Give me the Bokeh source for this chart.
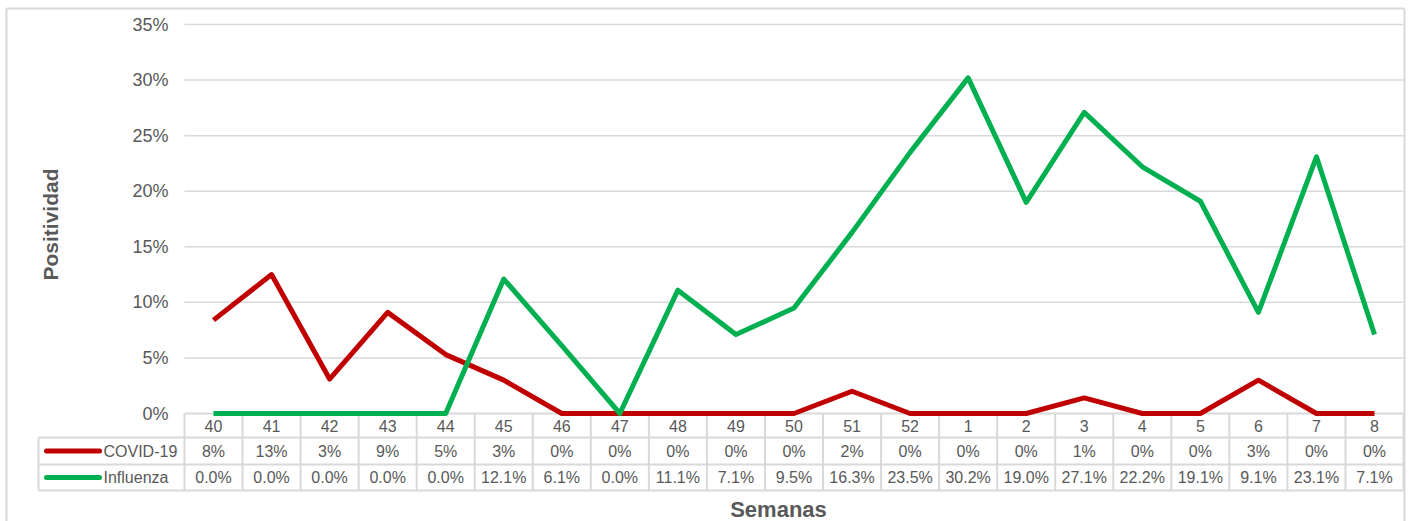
from bokeh.plotting import figure
from bokeh.models import Range1d, ColumnDataSource
from bokeh.core.properties import value
from bokeh.embed import file_html
from bokeh.resources import INLINE

# ---------------- data ----------------
weeks = ["40", "41", "42", "43", "44", "45", "46", "47", "48", "49", "50",
         "51", "52", "1", "2", "3", "4", "5", "6", "7", "8"]
covid = [8.4, 12.5, 3.1, 9.1, 5.3, 3.0, 0.0, 0.0, 0.0, 0.0, 0.0,
         2.0, 0.0, 0.0, 0.0, 1.4, 0.0, 0.0, 3.0, 0.0, 0.0]
covid_labels = ["8%", "13%", "3%", "9%", "5%", "3%", "0%", "0%", "0%", "0%", "0%",
                "2%", "0%", "0%", "0%", "1%", "0%", "0%", "3%", "0%", "0%"]
influenza = [0.0, 0.0, 0.0, 0.0, 0.0, 12.1, 6.1, 0.0, 11.1, 7.1, 9.5,
             16.3, 23.5, 30.2, 19.0, 27.1, 22.2, 19.1, 9.1, 23.1, 7.1]
influenza_labels = [f"{v:.1f}%" for v in influenza]
y_ticks = [0, 5, 10, 15, 20, 25, 30, 35]
y_tick_labels = [f"{t}%" for t in y_ticks]
series_names = ["COVID-19", "Influenza"]
series_colors = ["#C00000", "#00B050"]
y_title = "Positividad"
x_title = "Semanas"

# ---------------- layout (page pixels) ----------------
W, H = 1406, 521
FRAME_L, FRAME_T = 0, 0
PX_CAT = 58.05          # px per week column
PX_UNIT = 11.113        # px per percent
CX0 = 213               # page x of first week centre
CY0 = 413               # page y of 0%


def dx(px):
    return (px - CX0) / PX_CAT


def dy(py):
    return (CY0 - py) / PX_UNIT


TEXT = "#595959"
GRID = "#d9d9d9"
FONT = value("Liberation Sans")

p = figure(width=W, height=H, output_backend="svg", toolbar_location=None,
           x_range=Range1d(dx(FRAME_L), dx(W)), y_range=Range1d(dy(H), dy(FRAME_T)),
           min_border=0, min_border_left=0, min_border_right=0,
           min_border_top=0, min_border_bottom=0)
p.xaxis.visible = False
p.yaxis.visible = False
p.xgrid.visible = False
p.ygrid.visible = False
p.outline_line_color = None
p.background_fill_color = "white"
p.border_fill_color = "white"

n = len(weeks)
idx = list(range(n))
left = -0.5
right = n - 0.5

# outer chart border (left, top, right)
bl, bt, br = dx(6), dy(8), dx(1404)
p.segment(x0=[bl, bl, br], x1=[bl, br, br], y0=[dy(H + 5), bt, bt],
          y1=[bt, bt, dy(H + 5)], line_color=GRID, line_width=2)

# grid lines
gl = [t for t in y_ticks if t > 0]
p.segment(x0=[left] * len(gl), x1=[right] * len(gl), y0=gl, y1=gl,
          line_color=GRID, line_width=1.5)

# y tick labels
p.text(x=[dx(168)] * len(y_ticks), y=y_ticks, text=y_tick_labels,
       text_align="right", text_baseline="middle", text_font=FONT,
       text_font_size=value("18px"), text_color=TEXT)

# y title
p.text(x=[dx(50)], y=[dy(224)], text=[y_title], angle=1.5708,
       text_align="center", text_baseline="middle", text_font=FONT,
       text_font_size=value("21px"), text_font_style="bold", text_color=TEXT)

# ---------------- data table ----------------
r1 = dy(437)
r2 = dy(464)
r3 = dy(490)
leg_left = dx(38)

# horizontal borders
p.segment(x0=[left, leg_left, leg_left, leg_left], x1=[right] * 4,
          y0=[0, r1, r2, r3], y1=[0, r1, r2, r3],
          line_color=GRID, line_width=2)
# vertical borders
vx = [left + k for k in range(n + 1)]
p.segment(x0=vx, x1=vx, y0=[0] * len(vx), y1=[r3] * len(vx),
          line_color=GRID, line_width=2)
p.segment(x0=[leg_left], x1=[leg_left], y0=[r1], y1=[r3],
          line_color=GRID, line_width=2)

# table texts
src = ColumnDataSource(dict(x=idx, weeks=weeks, cov=covid_labels, inf=influenza_labels,
                            yw=[(0 + r1) / 2] * n, yc=[(r1 + r2) / 2] * n,
                            yi=[(r2 + r3) / 2] * n))
for col, yc in (("weeks", "yw"), ("cov", "yc"), ("inf", "yi")):
    p.text(x="x", y=yc, text=col, source=src, text_align="center",
           text_baseline="middle", text_font=FONT, text_font_size=value("16px"),
           text_color=TEXT)

# legend keys in table
ys = [(r1 + r2) / 2, (r2 + r3) / 2]
p.segment(x0=[dx(46)] * 2, x1=[dx(99)] * 2, y0=ys, y1=ys, line_color=series_colors,
          line_width=5, line_cap="round")
p.text(x=[dx(103)] * 2, y=ys, text=series_names, text_align="left",
       text_baseline="middle", text_font=FONT, text_font_size=value("16px"),
       text_color=TEXT)

# x title
p.text(x=[dx(778)], y=[dy(509)], text=[x_title], text_align="center",
       text_baseline="middle", text_font=FONT, text_font_size=value("22px"),
       text_font_style="bold", text_color=TEXT)

# series lines (drawn last, above the table border)
p.line(x=idx, y=covid, line_color=series_colors[0], line_width=5,
       line_join="round")
p.line(x=idx, y=influenza, line_color=series_colors[1], line_width=5,
       line_join="round")

open("out.html", "w").write(file_html(p, INLINE))
